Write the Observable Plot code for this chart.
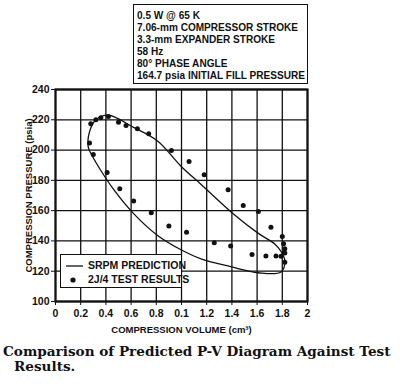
<!DOCTYPE html>
<html><head><meta charset="utf-8">
<script src="https://cdn.jsdelivr.net/npm/d3@7"></script>
<script src="https://cdn.jsdelivr.net/npm/@observablehq/plot@0.6"></script>
<style>
body{margin:0;background:#fff;width:400px;height:390px;position:relative;overflow:hidden;font-family:"Liberation Sans",Arial,sans-serif;color:#111;}
#chart{position:absolute;left:0;top:0;}
#note{position:absolute;left:133px;top:4px;width:175px;height:80px;border:1.5px solid #111;box-sizing:border-box;font-weight:bold;font-size:10.5px;line-height:12px;padding:4px 0 0 3px;background:#fff;}
#note div{white-space:nowrap;transform-origin:0 50%;}
#legend{position:absolute;left:60px;top:254px;width:122px;height:34px;border:1.5px solid #111;box-sizing:border-box;background:#fff;font-weight:bold;font-size:10.5px;}
#legend div{position:absolute;left:27px;white-space:nowrap;}
#caption{position:absolute;left:3px;top:344px;font-family:"DejaVu Serif",serif;font-weight:bold;font-size:13.6px;line-height:15px;white-space:nowrap;}
#caption div{white-space:nowrap;}
</style>
</head><body>
<div id="chart"></div>
<div id="note"></div>
<div id="legend"></div>
<div id="caption"></div>
<script>
const noteLines = ["0.5 W @ 65 K","7.06-mm COMPRESSOR STROKE","3.3-mm EXPANDER STROKE","58 Hz","80° PHASE ANGLE","164.7 psia INITIAL FILL PRESSURE"];
const xTicks = [0,0.2,0.4,0.6,0.8,1.0,1.2,1.4,1.6,1.8,2.0];
const xTickLabels = ["0","0.2","0.4","0.6","0.8","0.1","1.2","1.4","1.6","1.8","2"];
const yTicks = [100,120,140,160,180,200,220,240];
const xLabel = "COMPRESSION VOLUME (cm³)";
const yLabel = "COMPRESSION PRESSURE (psia)";
const seriesNames = ["SRPM PREDICTION","2J/4 TEST RESULTS"];
// SRPM prediction loop (volume cm3, pressure psia)
const predV = [0.26,0.27,0.32,0.42,0.62,0.81,1.00,1.16,1.41,1.61,1.74,1.79,1.82,1.79,1.61,1.39,1.16,1.00,0.81,0.62,0.47,0.36,0.29];
const predP = [202,212,220,223,215,206,189,177,158,145,138,133,127,119.5,119,123,128,134,143.6,158,173,186.5,196.4];
// test results
const testV = [0.27,0.30,0.28,0.32,0.36,0.42,0.41,0.50,0.56,0.51,0.65,0.62,0.74,0.76,0.92,0.90,1.06,1.04,1.18,1.37,1.49,1.26,1.39,1.61,1.71,1.80,1.56,1.67,1.75,1.81,1.82,1.82,1.82,1.79];
const testP = [204.6,197.1,217.4,220.0,221.3,222.2,185.2,218.4,216.2,174.5,214.1,166.3,210.8,158.6,199.7,149.8,192.5,145.8,183.7,173.8,163.4,138.8,136.6,159.5,149.1,143.0,131.1,130.0,130.0,138.2,134.9,132.0,126.0,129.8];
const caption = "Comparison of Predicted P-V Diagram Against Test";
const caption2 = "Results.";

const pred = predV.map((v,i)=>({v, p: predP[i]}));
const test = testV.map((v,i)=>({v, p: testP[i]}));

const plot = Plot.plot({
  width: 400, height: 340,
  marginTop: 89, marginBottom: 39, marginLeft: 55, marginRight: 93,
  style: {fontFamily: '"Liberation Sans",Arial,sans-serif', fontWeight: "bold", fontSize: "10px", color: "#111", background: "transparent"},
  x: {domain: [0, 2]},
  y: {domain: [100, 240]},
  marks: [
    Plot.gridX(xTicks, {stroke: "#111", strokeOpacity: 1, strokeWidth: 1.3}),
    Plot.gridY(yTicks, {stroke: "#111", strokeOpacity: 1, strokeWidth: 1.3}),
    Plot.frame({stroke: "#111", strokeWidth: 2.2}),
    Plot.line(pred, {x: "v", y: "p", curve: "catmull-rom-closed", stroke: "#111", strokeWidth: 1.3}),
    Plot.dot(test, {x: "v", y: "p", r: 2.5, fill: "#111", stroke: "none"}),
    Plot.axisX({ticks: xTicks, tickFormat: d => xTickLabels[Math.round(d*5)], tickSize: 4, tickPadding: 4, label: null, fontSize: 10.5}),
    Plot.axisY({ticks: yTicks, tickSize: 4, tickPadding: 2, label: null, fontSize: 10.5}),
    Plot.text([xLabel], {frameAnchor: "bottom", dy: 31, text: d => d, fontSize: 9.5, fontWeight: "bold", textAnchor: "middle"}),
    Plot.text([yLabel], {frameAnchor: "left", dx: -27, rotate: -90, text: d => d, fontSize: 9.5, fontWeight: "bold", textAnchor: "middle"})
  ]
});
document.getElementById("chart").appendChild(plot);

const note = document.getElementById("note");
note.innerHTML = noteLines.map(s => `<div><span>${s}</span></div>`).join("");
// fit longest line into the box width
const spans = [...note.querySelectorAll("span")];
const maxW = Math.max(...spans.map(s => s.getBoundingClientRect().width));
const k = Math.min(1, 168 / maxW);
note.querySelectorAll("div").forEach(d => d.style.transform = `scaleX(${k})`);

document.getElementById("legend").innerHTML =
  `<svg width="122" height="34" style="position:absolute;left:0;top:0"><line x1="5" x2="22" y1="11" y2="11" stroke="#111" stroke-width="1.3"/><circle cx="12" cy="25" r="2.6" fill="#111"/></svg>` +
  `<div style="top:4px">${seriesNames[0]}</div><div style="top:18px">${seriesNames[1]}</div>`;
document.getElementById("caption").innerHTML = `<div>${caption}</div><div style="padding-left:11px">${caption2}</div>`;
</script>
</body></html>
